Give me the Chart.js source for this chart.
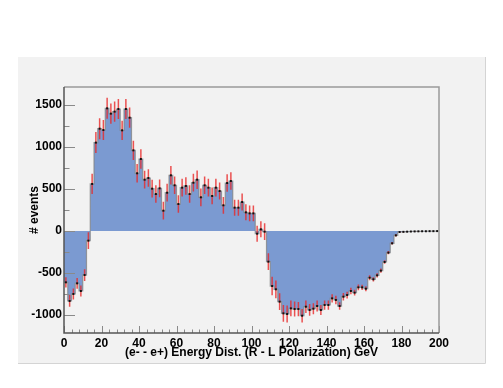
<!DOCTYPE html>
<html>
<head>
<meta charset="UTF-8">
<script src="https://cdn.jsdelivr.net/npm/chart.js@4.4.1/dist/chart.umd.min.js"></script>
<title>Energy distribution</title>
<style>
	body { margin: 0; background: #fff; }
	#wrap { width: 503px; height: 388px; }
</style>
</head>
<body>
	<div id="wrap">
		<canvas id="histChart" width="503" height="388"></canvas>
	</div>
	<script>
		// bins of 2 GeV, 0..200
		var binWidth = 2;
		var counts = [
			-611, -833, -750, -623, -714, -524, -115, 560, 1052, 1218,
			1202, 1460, 1397, 1421, 1452, 1198, 1452, 1349, 960, 687,
			857, 611, 631, 504, 440, 508, 242, 456, 663, 544,
			321, 516, 536, 440, 575, 611, 401, 544, 516, 417,
			516, 476, 306, 571, 595, 278, 278, 345, 222, 210,
			210, -32, 20, -8, -365, -655, -694, -841, -980, -988,
			-921, -929, -929, -1008, -901, -940, -925, -893, -940, -881,
			-881, -802, -821, -893, -782, -762, -714, -734, -671, -671,
			-687, -556, -575, -528, -472, -369, -258, -147, -52, -12,
			-10, -8, -6, -5, -4, -3, -3, -2, -2, -1
		];
		var errors = [
			60, 70, 65, 65, 65, 70, 100, 120, 125, 125,
			120, 125, 120, 120, 120, 115, 120, 120, 115, 110,
			115, 105, 105, 105, 105, 105, 105, 105, 110, 105,
			105, 105, 105, 105, 105, 110, 105, 105, 105, 100,
			105, 100, 100, 105, 105, 95, 95, 100, 95, 95,
			95, 95, 95, 100, 100, 110, 105, 100, 100, 100,
			95, 90, 85, 80, 75, 70, 65, 65, 60, 55,
			55, 50, 50, 45, 45, 40, 40, 35, 35, 30,
			30, 30, 25, 25, 25, 20, 20, 15, 12, 8,
			5, 4, 4, 3, 3, 2, 2, 2, 2, 2
		];
		var xTicks = [0, 20, 40, 60, 80, 100, 120, 140, 160, 180, 200];
		var yTicks = [-1000, -500, 0, 500, 1000, 1500];
		var xTitle = '(e- - e+) Energy Dist. (R - L Polarization) GeV';
		var yTitle = '# events';

		// build the step outline, error bars and markers from the arrays
		var stepData = [], errData = [], markData = [];
		for (var i = 0; i < counts.length; i++) {
			var c = i * binWidth + binWidth / 2;
			stepData.push({x: i * binWidth, y: counts[i]});
			errData.push({x: c, y: counts[i] - errors[i]});
			errData.push({x: c, y: counts[i] + errors[i]});
			errData.push({x: c, y: null});
			markData.push({x: c, y: counts[i]});
		}
		stepData.push({x: counts.length * binWidth, y: counts[counts.length - 1]});

		var labelFont = {family: 'Liberation Sans', size: 12, weight: 'bold'};

		// ROOT-ish pad: gray panel, frame and inner tick marks
		var padPlugin = {
			id: 'pad',
			beforeDraw: function(chart) {
				var ctx = chart.ctx;
				ctx.save();
				ctx.fillStyle = '#ffffff';
				ctx.fillRect(0, 0, chart.width, chart.height);
				ctx.fillStyle = '#f2f2f2';
				ctx.fillRect(18, 57, 467, 306);
				ctx.strokeStyle = '#d4d4d4';
				ctx.lineWidth = 1;
				ctx.beginPath();
				ctx.moveTo(485.5, 57);
				ctx.lineTo(485.5, 363.5);
				ctx.lineTo(18, 363.5);
				ctx.stroke();
				ctx.restore();
			},
			afterDatasetsDraw: function(chart) {
				var ctx = chart.ctx, a = chart.chartArea;
				var xs = chart.scales.x, ys = chart.scales.y;
				ctx.save();
				ctx.lineWidth = 1;
				// tick marks
				ctx.strokeStyle = '#8a8a8a';
				ctx.beginPath();
				for (var v = -1000; v <= 1500; v += 250) {
					var py = Math.round(ys.getPixelForValue(v)) + 0.5;
					var len = (v % 500 === 0) ? 11 : 5.5;
					ctx.moveTo(a.left, py);
					ctx.lineTo(a.left + len, py);
				}
				for (var x = 0; x <= 200; x += 4) {
					var px = Math.round(xs.getPixelForValue(x)) + 0.5;
					var l2 = (x % 20 === 0) ? 7 : 3.5;
					ctx.moveTo(px, a.bottom);
					ctx.lineTo(px, a.bottom - l2);
				}
				ctx.stroke();
				// frame
				ctx.strokeStyle = '#9a9a9a';
				ctx.lineWidth = 1.5;
				ctx.beginPath();
				ctx.moveTo(a.left, a.top);
				ctx.lineTo(a.right, a.top);
				ctx.lineTo(a.right, a.bottom);
				ctx.stroke();
				ctx.strokeStyle = '#555555';
				ctx.beginPath();
				ctx.moveTo(a.left, a.top);
				ctx.lineTo(a.left, a.bottom);
				ctx.lineTo(a.right, a.bottom);
				ctx.stroke();
				ctx.restore();
			}
		};

		var ctxH = document.getElementById('histChart').getContext('2d');
		var histChart = new Chart(ctxH, {
			type: 'line',
			data: {
				datasets: [{
					label: 'markers',
					type: 'scatter',
					data: markData,
					order: 1,
					pointStyle: 'rect',
					pointRadius: 1.4,
					pointBackgroundColor: '#111111',
					pointBorderWidth: 0,
					showLine: false
				}, {
					label: 'errors',
					data: errData,
					order: 2,
					borderColor: 'rgba(232,40,40,0.8)',
					borderWidth: 1.5,
					pointRadius: 0,
					spanGaps: false,
					fill: false
				}, {
					label: 'R - L',
					data: stepData,
					order: 3,
					stepped: 'before',
					borderColor: 'rgba(130,130,130,0.75)',
					borderWidth: 1.2,
					backgroundColor: '#7b9ad1',
					pointRadius: 0,
					fill: 'origin'
				}]
			},
			options: {
				responsive: false,
				animation: false,
				events: [],
				layout: {padding: {left: 18, right: 64, top: 87, bottom: 27}},
				plugins: {legend: {display: false}, tooltip: {enabled: false}},
				scales: {
					x: {
						type: 'linear',
						min: 0,
						max: 200,
						grid: {display: false, drawTicks: false},
						border: {display: false},
						afterBuildTicks: function(s) { s.ticks = xTicks.map(function(v) { return {value: v}; }); },
						afterFit: function(s) { s.height = 28; },
						ticks: {color: '#000', font: labelFont, padding: 3, maxRotation: 0, autoSkip: false,
							callback: function(v) { return String(v); }},
						title: {display: true, text: xTitle, color: '#000', font: labelFont, padding: {top: 0, bottom: 1}}
					},
					y: {
						type: 'linear',
						min: -1214,
						max: 1714,
						grid: {display: false, drawTicks: false},
						border: {display: false},
						afterBuildTicks: function(s) { s.ticks = yTicks.map(function(v) { return {value: v}; }); },
						afterFit: function(s) { s.width = 46; },
						ticks: {color: '#000', font: labelFont, padding: 2,
							callback: function(v) { return String(v); }},
						title: {display: true, text: yTitle, color: '#000', font: labelFont, padding: {top: 9, bottom: 0}}
					}
				}
			},
			plugins: [padPlugin]
		});
	</script>
</body>
</html>
